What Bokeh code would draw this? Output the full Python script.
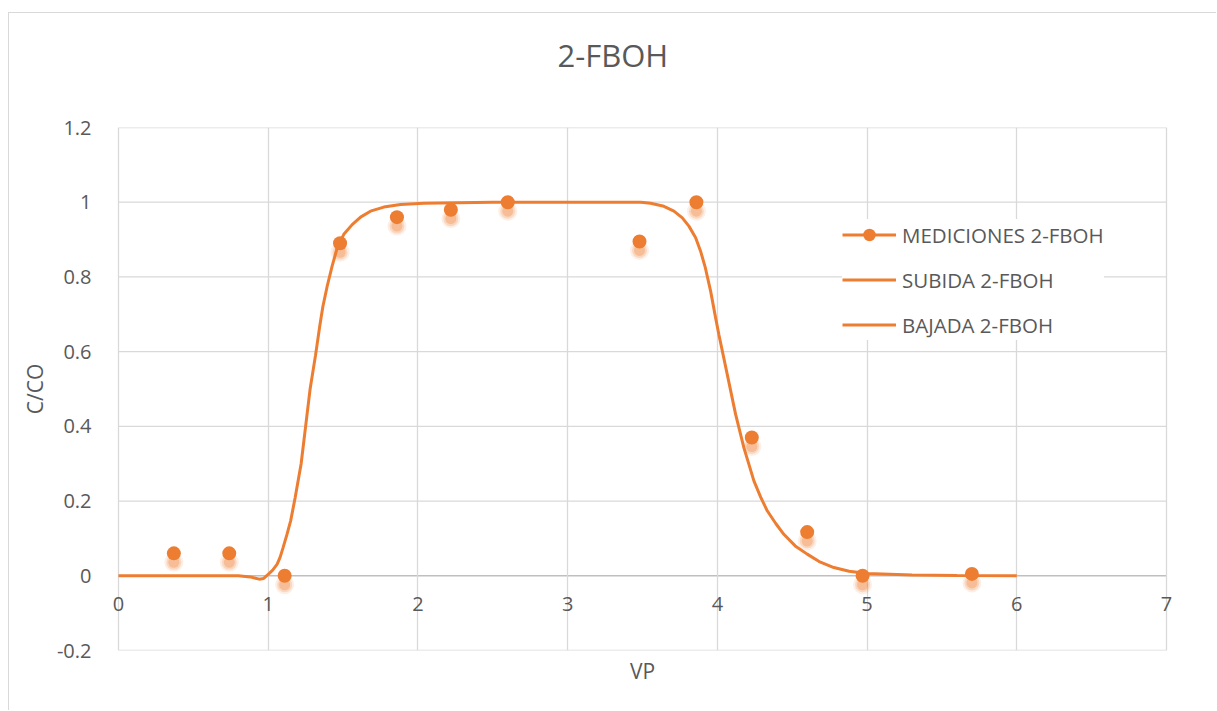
from bokeh.plotting import figure
from bokeh.models import (ColumnDataSource, FixedTicker, Legend, LegendItem, Title, Range1d,
                          Label)
from bokeh.transform import dodge
from bokeh.embed import file_html
from bokeh.resources import INLINE

# ---- data ----
title_text = "2-FBOH"
x_label = "VP"
y_label = "C/CO"

med_x = [0.37, 0.74, 1.11, 1.48, 1.86, 2.22, 2.60, 3.48, 3.86, 4.23, 4.60, 4.97, 5.70]
med_y = [0.06, 0.06, 0.0, 0.89, 0.96, 0.98, 1.0, 0.895, 1.0, 0.37, 0.117, 0.0, 0.005]

sub_x = [0.0, 0.5, 0.8, 0.88, 0.94, 0.97, 1.0, 1.03, 1.06, 1.08, 1.10, 1.125, 1.15, 1.18,
         1.22, 1.25, 1.28, 1.316, 1.345, 1.365, 1.394, 1.427, 1.461, 1.505, 1.561, 1.617,
         1.683, 1.772, 1.884, 2.04, 2.15, 2.5, 3.0, 3.49]
sub_y = [0.0, 0.0, 0.0, -0.003, -0.009, -0.007, 0.004, 0.015, 0.031, 0.05, 0.076, 0.11, 0.147,
         0.209, 0.30, 0.40, 0.50, 0.59, 0.67, 0.72, 0.775, 0.829, 0.878, 0.914, 0.940, 0.960,
         0.976, 0.987, 0.994, 0.997, 0.998, 1.0, 1.0, 1.0]

baj_x = [3.49, 3.554, 3.643, 3.71, 3.766, 3.81, 3.855, 3.888, 3.92, 3.955, 3.988, 4.01,
         4.066, 4.122, 4.177, 4.244, 4.29, 4.333, 4.39, 4.444, 4.52, 4.60, 4.68, 4.778,
         4.88, 5.0, 5.3, 5.6, 6.0]
baj_y = [1.0, 0.997, 0.989, 0.976, 0.958, 0.936, 0.905, 0.869, 0.824, 0.762, 0.691, 0.646,
         0.539, 0.432, 0.343, 0.254, 0.21, 0.174, 0.14, 0.111, 0.08, 0.058, 0.038, 0.022,
         0.012, 0.006, 0.002, 0.001, 0.0]

series_names = ["MEDICIONES 2-FBOH", "SUBIDA 2-FBOH", "BAJADA 2-FBOH"]

x_ticks = [0, 1, 2, 3, 4, 5, 6, 7]
x_tick_labels = ["0", "1", "2", "3", "4", "5", "6", "7"]
y_ticks = [-0.2, 0.0, 0.2, 0.4, 0.6, 0.8, 1.0, 1.2]
y_tick_labels = ["-0.2", "0", "0.2", "0.4", "0.6", "0.8", "1", "1.2"]

# ---- style ----
ORANGE = "#ED7D31"
GRID = "#D9D9D9"
AXIS = "#BFBFBF"
TEXT = "#595959"
FONT = "Open Sans"
PAD = 0.12  # small x padding so the end tick labels are not clipped

p = figure(width=1208, height=698, output_backend="svg", toolbar_location=None,
           x_range=Range1d(x_ticks[0] - PAD, x_ticks[-1] + PAD),
           y_range=Range1d(y_ticks[0], y_ticks[-1]),
           min_border_left=91, min_border_right=33, min_border_top=114, min_border_bottom=61)
p.styles = {"margin-left": "8px", "margin-top": "12px",
            "border-top": "1px solid #D9D9D9", "border-left": "1px solid #D9D9D9"}
p.outline_line_color = None
p.background_fill_color = "white"
p.border_fill_color = "white"

# spacer between frame and title (placed nearest the frame)
p.add_layout(Title(text=" ", text_font_size="2px", standoff=48), "above")

p.title.text = title_text
p.title.align = "left"
p.title.vertical_align = "bottom"
p.title.text_font = FONT
p.title.text_font_size = "31px"
p.title.text_font_style = "normal"
p.title.text_color = TEXT
p.title.offset = 457
p.title.standoff = 0

# axes
p.xaxis.visible = False
p.xgrid.ticker = FixedTicker(ticks=x_ticks)
p.xgrid.grid_line_color = GRID
p.xgrid.grid_line_width = 1.3
p.ygrid.visible = False
p.yaxis.ticker = FixedTicker(ticks=y_ticks)
p.yaxis.major_label_overrides = {t: l for t, l in zip(y_ticks, y_tick_labels)}
p.yaxis.major_tick_line_color = None
p.yaxis.minor_tick_line_color = None
p.yaxis.major_label_text_font = FONT
p.yaxis.major_label_text_font_size = "20px"
p.yaxis.major_label_text_color = TEXT
p.yaxis.axis_line_color = None
p.yaxis.major_label_standoff = 3
p.yaxis.axis_label = y_label
p.yaxis.axis_label_text_font = FONT
p.yaxis.axis_label_text_font_size = "21px"
p.yaxis.axis_label_text_font_style = "normal"
p.yaxis.axis_label_text_color = TEXT
p.yaxis.axis_label_standoff = 5

xt = Title(text=x_label, align="center", text_font=FONT, text_font_size="21px",
           text_font_style="normal", text_color=TEXT, standoff=8)
p.add_layout(xt, "below")

# horizontal gridlines spanning the x data range only
hgrid = ColumnDataSource(dict(y=y_ticks, x0=[x_ticks[0]] * len(y_ticks),
                              x1=[x_ticks[-1]] * len(y_ticks),
                              c=[AXIS if t == 0 else GRID for t in y_ticks],
                              w=[1.5 if t == 0 else 1.3 for t in y_ticks]))
p.segment(x0="x0", y0="y", x1="x1", y1="y", source=hgrid, line_color="c", line_width="w",
          level="underlay")

for xv, lab in zip(x_ticks, x_tick_labels):
    p.add_layout(Label(x=xv, y=0, text=lab, y_offset=-21, text_align="center",
                       text_baseline="top", text_font=FONT, text_font_size="20px",
                       text_color=TEXT))

# curves
r_sub = p.line(sub_x, sub_y, line_color=ORANGE, line_width=3)
r_baj = p.line(baj_x, baj_y, line_color=ORANGE, line_width=3)

# measurements with soft shadow
src = ColumnDataSource(dict(x=med_x, y=med_y))
for s, a in [(19, 0.12), (15, 0.2), (11, 0.3)]:
    p.scatter(x="x", y=dodge("y", -0.024, range=p.y_range), source=src, size=s,
              fill_color=ORANGE, fill_alpha=a, line_color=None)
r_med = p.scatter(x="x", y="y", source=src, size=14, fill_color=ORANGE, line_color=None)
r_med_line = p.line(x=[float("nan")], y=[float("nan")], line_color=ORANGE, line_width=3)

legend = Legend(items=[LegendItem(label=series_names[0], renderers=[r_med_line, r_med]),
                       LegendItem(label=series_names[1], renderers=[r_sub]),
                       LegendItem(label=series_names[2], renderers=[r_baj])],
                location=(742, 310), margin=0, padding=10, spacing=14,
                glyph_width=54, glyph_height=31, label_standoff=6,
                label_text_font=FONT, label_text_font_size="20.5px", label_text_color=TEXT,
                border_line_color=None, background_fill_color="white", background_fill_alpha=1)
p.add_layout(legend)

open("out.html", "w").write(file_html(p, INLINE))
